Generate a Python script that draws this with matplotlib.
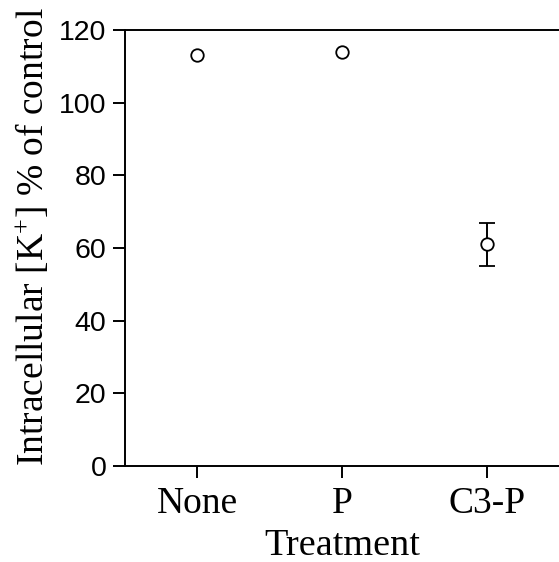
import numpy as np
import matplotlib.pyplot as plt

treatments = ['None', 'P', 'C3-P']
k_percent = [113, 114, 61]
k_err = [0, 0, 6]

plt.rcParams['font.family'] = ['Liberation Serif', 'DejaVu Serif']
plt.rcParams['mathtext.fontset'] = 'custom'
plt.rcParams['mathtext.rm'] = 'Liberation Serif'
plt.rcParams['mathtext.it'] = 'Liberation Serif:italic'

fig = plt.figure(figsize=(5.59, 5.62), dpi=100)
ax = fig.add_axes([125/559, 1 - 466/562, 434/559, 436/562])

x = np.arange(len(treatments))
ax.errorbar(x, k_percent, yerr=[e if e > 0 else np.nan for e in k_err],
            fmt='o', mfc='white', mec='black', ms=9, mew=1.3,
            ecolor='black', elinewidth=1.4, capsize=5.5, capthick=1.4)

ax.set_xlim(-0.5, 2.5)
ax.set_ylim(0, 120)
ax.set_yticks([0, 20, 40, 60, 80, 100, 120])
ax.set_xticks(x)
ax.set_xticklabels(treatments, fontsize=27)
for lab in ax.get_yticklabels():
    lab.set_family(['Liberation Sans', 'DejaVu Sans'])
    lab.set_fontsize(20.5)

ax.spines['right'].set_visible(False)
for s in ['left', 'bottom', 'top']:
    ax.spines[s].set_linewidth(1.4)
ax.tick_params(length=8.5, width=1.4, direction='out', top=False)
ax.tick_params(axis='y', pad=5)
ax.tick_params(axis='x', pad=6)

ax.set_xlabel('Treatment', fontsize=27.5, labelpad=6)
ax.set_ylabel('Intracellular [K$^{+}$] % of control', fontsize=27)
ax.yaxis.set_label_coords(-0.17, 0.525)

fig.savefig('out.png', dpi=100)
